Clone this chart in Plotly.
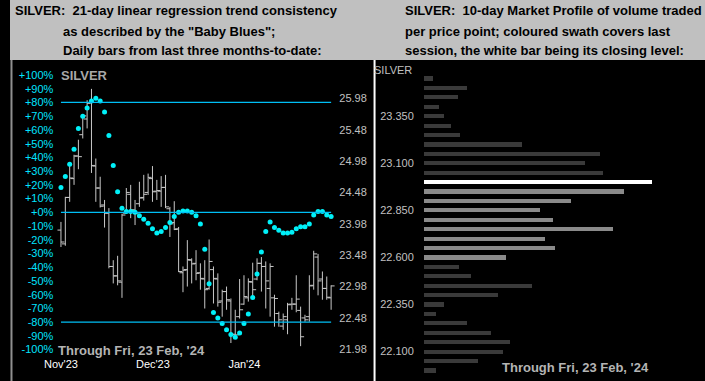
import plotly.graph_objects as go

W, H = 705, 381

# ---------------- data ----------------
opens  = [23.88,23.66,24.40,24.70,25.06,25.40,25.65,25.91,24.90,24.55,24.28,24.15,23.30,23.15,23.05,24.15,24.45,24.20,24.30,24.40,
          24.48,24.70,24.50,24.50,24.56,24.22,24.00,23.90,23.20,23.25,23.40,23.35,23.20,23.10,22.95,23.25,23.10,22.75,22.90,22.75,
          22.22,22.50,22.70,22.80,23.05,23.10,23.35,23.30,22.95,22.80,22.55,22.35,22.45,22.70,22.70,22.60,22.48,22.50,23.00,23.45,
          23.10,22.95,22.80]
highs  = [24.01,24.41,24.92,25.08,25.32,25.73,25.95,26.13,25.02,24.73,24.36,24.23,23.40,23.47,24.14,24.55,24.60,24.36,24.65,24.76,
          24.78,24.90,24.68,24.74,24.76,24.25,24.34,23.93,23.30,23.72,23.43,23.56,23.35,23.40,23.73,23.30,23.19,22.93,22.98,22.79,
          22.61,23.10,23.16,23.11,23.36,23.43,23.45,23.38,23.35,22.85,22.58,22.55,22.72,22.80,23.16,22.66,22.53,23.16,23.55,23.50,
          23.22,23.14,23.00]
lows   = [23.61,23.63,24.33,24.60,24.85,25.34,25.50,24.79,24.33,24.24,23.92,23.27,23.03,23.00,22.80,24.15,24.07,23.96,24.25,24.35,
          24.44,24.33,24.36,24.25,24.23,23.77,23.88,23.21,22.89,22.98,23.03,23.08,22.93,22.63,22.93,22.71,22.66,22.50,22.61,22.08,
          22.18,22.47,22.69,22.74,22.79,23.08,22.90,22.63,22.50,22.34,22.34,22.29,22.22,22.61,22.57,22.03,22.42,22.42,22.93,22.84,
          22.77,22.77,22.61]
closes = [23.69,24.40,24.71,25.06,25.05,25.70,25.90,24.91,24.55,24.26,24.15,23.30,23.15,23.07,24.12,24.48,24.20,24.15,24.39,24.45,
          24.72,24.49,24.51,24.56,24.25,23.98,23.89,23.22,23.24,23.41,23.34,23.19,23.11,22.93,23.38,23.11,22.73,22.90,22.77,22.21,
          22.21,22.61,22.82,23.06,22.93,23.35,23.30,23.07,23.30,22.79,22.45,22.50,22.69,22.70,22.78,22.18,22.45,22.99,23.50,23.07,
          22.95,22.81,22.99]
baby_blues = [18,26,35,46,61,70,76,81,83,81,73,56,34,15,3,0.5,0.5,0,-2.5,-5,
              -8,-12,-15,-14,-11,-7.5,-3,0,1,1,0,-2.5,-8.5,-27,-52,-73,-77,-81,-85.5,-89,
              -91,-88,-81,-74,-62,-45,-29,-14,-7,-11,-13,-15,-15,-14.5,-12,-10.5,-10.5,-8.5,-2,0.5,
              0.5,-2,-3]
month_labels = ["Nov'23", "Dec'23", "Jan'24"]
month_pos = [0, 21.1, 42.1]
pct_ticks = [100,90,80,70,60,50,40,30,20,10,0,-10,-20,-30,-40,-50,-60,-70,-80,-90,-100]
price_ticks = [21.98,22.48,22.98,23.48,23.98,24.48,24.98,25.48,25.98]

mp_levels = [23.55,23.50,23.45,23.40,23.35,23.30,23.25,23.20,23.15,23.10,23.05,23.00,22.95,22.90,22.85,22.80,
             22.75,22.70,22.65,22.60,22.55,22.50,22.45,22.40,22.35,22.30,22.25,22.20,22.15,22.10,22.05,22.00]
mp_volume = [9,44,34,15,20,27,37,99,179,163,182,231,203,149,118,131,
             192,123,133,83,36,48,110,75,20,12,44,68,87,80,55,12]
mp_ticks = [22.10,22.35,22.60,22.85,23.10,23.35]

n = len(closes)
assert len(opens) == len(highs) == len(lows) == n == len(baby_blues)

def px(x): return x / W
def py(y): return 1 - y / H

fig = go.Figure()

# OHLC bars drawn as line segments
tw = 0.8
xs, ys = [], []
for i in range(n):
    xs += [i, i, None, i - tw, i, None, i, i + tw, None]
    ys += [lows[i], highs[i], None, opens[i], opens[i], None, closes[i], closes[i], None]
fig.add_trace(go.Scatter(x=xs, y=ys, mode="lines", line=dict(color="#c8c8c8", width=1),
                         xaxis="x", yaxis="y", hoverinfo="skip", showlegend=False))

# Baby blues
fig.add_trace(go.Scatter(x=list(range(n)), y=baby_blues, mode="markers",
                         marker=dict(color="#00f0f8", size=5, line=dict(width=0)),
                         xaxis="x", yaxis="y2", showlegend=False))

# Market profile
last_lo, last_hi, last_c = lows[-1], highs[-1], closes[-1]
cols = []
for lv in mp_levels:
    if abs(lv - round(last_c / 0.05) * 0.05) < 1e-6:
        cols.append("#ffffff")
    elif lv + 0.025 >= last_lo and lv - 0.025 <= last_hi:
        cols.append("#8a8a8a")
    else:
        cols.append("#3a3a3a")
fig.add_trace(go.Bar(x=mp_volume, y=mp_levels, orientation="h", marker=dict(color=cols, line=dict(width=0)),
                     width=0.022, xaxis="x3", yaxis="y3", showlegend=False))

dom_top, dom_bot = 65, 356
xr0 = (45 - 51.7) / 4.42
xr1 = (333 - 51.7) / 4.42
pct_top = (212.3 - dom_top) / 1.373
pct_bot = (212.3 - dom_bot) / 1.373
pr_top = 21.98 + (349.3 - dom_top) / 62.75
pr_bot = 21.98 + (349.3 - dom_bot) / 62.75

axfont = dict(family="Liberation Sans, Arial, sans-serif", size=11)

fig.update_layout(
    width=W, height=H, margin=dict(l=0, r=0, t=0, b=0),
    paper_bgcolor="#000000", plot_bgcolor="rgba(0,0,0,0)",
    bargap=0,
    xaxis=dict(domain=[px(45), px(333)], range=[xr0, xr1], showgrid=False, zeroline=False,
               showline=False, tickvals=month_pos, ticktext=month_labels, ticks="",
               tickfont=dict(axfont, color="#ffffff")),
    yaxis=dict(domain=[py(dom_bot), py(dom_top)], range=[pr_bot, pr_top], side="right",
               showgrid=False, zeroline=False, showline=False, tickvals=price_ticks,
               ticktext=[f"{v:.2f}" for v in price_ticks], ticks="",
               tickfont=dict(axfont, color="#c0c0c0")),
    yaxis2=dict(domain=[py(dom_bot), py(dom_top)], range=[pct_bot, pct_top], overlaying="y", side="left",
                anchor="x", showgrid=False, zeroline=False, showline=False, tickvals=pct_ticks,
                ticktext=[(f"+{v}%" if v >= 0 else f"{v}%") for v in pct_ticks], ticks="",
                tickfont=dict(axfont, color="#00e4ff")),
    xaxis3=dict(domain=[px(420), px(700)], range=[0, 280], showgrid=False, zeroline=False,
                showline=False, showticklabels=False, anchor="y3"),
    yaxis3=dict(domain=[py(378), py(65)], range=[21.96, 23.622], anchor="x3", showgrid=False,
                zeroline=False, showline=False, tickvals=mp_ticks, ticktext=[f"{v:.3f}" for v in mp_ticks],
                ticks="outside", ticklen=7, tickcolor="#000000",
                tickfont=dict(axfont, color="#c0c0c0")),
)

shapes = [
    dict(type="rect", xref="paper", yref="paper", x0=0, x1=1, y0=py(60), y1=1,
         fillcolor="#c0c0c0", line=dict(width=0), layer="below"),
    dict(type="line", xref="paper", yref="paper", x0=px(1.5), x1=px(1.5), y0=0, y1=py(60),
         line=dict(color="#909090", width=2)),
    dict(type="line", xref="paper", yref="paper", x0=px(369.8), x1=px(369.8), y0=0, y1=py(60),
         line=dict(color="#ffffff", width=2)),
]
for lv in [80, 0, -80]:
    shapes.append(dict(type="line", xref="x", yref="y2", x0=0, x1=n - 1, y0=lv, y1=lv,
                       line=dict(color="#00bff5", width=1.3)))
fig.update_layout(shapes=shapes)

tfont = dict(family="Liberation Sans, Arial, sans-serif", size=13, color="#000000")
ann = []
left_title = ["<b>SILVER:  21-day linear regression trend consistency</b>",
              "<b>as described by the \"Baby Blues\";</b>",
              "<b>Daily bars from last three months-to-date:</b>"]
right_title = ["<b>SILVER:  10-day Market Profile of volume traded</b>",
               "<b>per price point; coloured swath covers last</b>",
               "<b>session, the white bar being its closing level:</b>"]
ly = [10.5, 31, 51]
for k, t in enumerate(left_title):
    ann.append(dict(text=t, x=px(3 if k == 0 else 52), y=py(ly[k]), xref="paper", yref="paper",
                    xanchor="left", yanchor="middle", showarrow=False, font=tfont))
for k, t in enumerate(right_title):
    ann.append(dict(text=t, x=px(399), y=py(ly[k]), xref="paper", yref="paper",
                    xanchor="left", yanchor="middle", showarrow=False, font=tfont))
bfont = dict(family="Liberation Sans, Arial, sans-serif", size=13, color="#b4b4b4")
ann.append(dict(text="<b>SILVER</b>", x=px(50), y=py(76), xref="paper", yref="paper",
                xanchor="left", yanchor="middle", showarrow=False, font=dict(bfont, color="#a8a8a8")))
ann.append(dict(text="<b>Through Fri, 23 Feb, '24</b>", x=px(47), y=py(350), xref="paper", yref="paper",
                xanchor="left", yanchor="middle", showarrow=False, font=bfont))
ann.append(dict(text="<b>Through Fri, 23 Feb, '24</b>", x=px(497), y=py(367), xref="paper", yref="paper",
                xanchor="left", yanchor="middle", showarrow=False, font=bfont))
ann.append(dict(text="SILVER", x=px(410), y=py(70), xref="paper", yref="paper",
                xanchor="right", yanchor="middle", showarrow=False, font=dict(axfont, color="#c0c0c0")))
fig.update_layout(annotations=ann)

fig.write_html("out.html", config={"displayModeBar": False},
               post_script="document.body.style.margin='0px';document.body.style.overflow='hidden';")
